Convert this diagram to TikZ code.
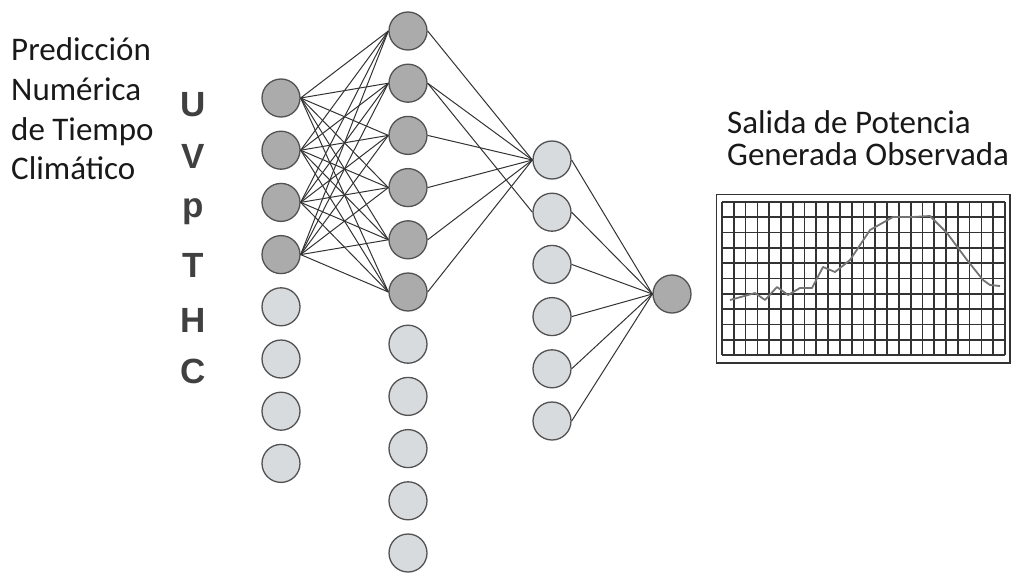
\documentclass[tikz,border=0pt]{standalone}
\usepackage{fontspec}
\setmainfont{Carlito}
\newfontfamily\lettersfont{Liberation Sans}
\begin{document}
\begin{tikzpicture}[x=1pt,y=-1pt,
  neuron/.style={circle,draw=black!68,line width=1.3pt,minimum size=38pt,inner sep=0pt},
  darkn/.style={neuron,fill=black!33},
  lightn/.style={neuron,fill={rgb,255:red,216;green,219;blue,222}},
  link/.style={draw=black!80,line width=1pt},
  label/.style={anchor=base west,inner sep=0pt,font=\fontsize{33}{39}\selectfont,text=black!90},
  letter/.style={anchor=base,inner sep=0pt,font=\lettersfont\bfseries\fontsize{35}{40}\selectfont,text=black!75},
  gridline/.style={draw=black!80,line width=1.7pt},
  curve/.style={draw=black!55,line width=1.8pt,line join=round}]
\useasboundingbox (0,0) rectangle (1016,575);
% input layer
\foreach \i in {1,...,4} \node[darkn] (a\i) at (281,{98+52.2*(\i-1)}) {};
\foreach \i in {5,...,8} \node[lightn] (a\i) at (281,{98+52.2*(\i-1)}) {};
% hidden layer 1
\foreach \i in {1,...,6} \node[darkn] (b\i) at (408,{31+52.2*(\i-1)}) {};
\foreach \i in {7,...,11} \node[lightn] (b\i) at (408,{31+52.2*(\i-1)}) {};
% hidden layer 2
\foreach \i in {1,...,6} \node[lightn] (c\i) at (552,{160+52.2*(\i-1)}) {};
% output
\node[darkn] (o) at (672,294) {};
% connections
\foreach \i in {1,...,4} \foreach \j in {1,...,6} \draw[link] (a\i.east) -- (b\j.west);
\foreach \j in {1,...,6} \draw[link] (b\j.east) -- (c1.west);
\draw[link] (b2.east) -- (c2.west);
\foreach \j in {1,...,6} \draw[link] (c\j.east) -- (o.west);
% texts
\node[label] (t1) at (11,61) {Predicción};
\node[label] (t2) at (11,100) {Numérica};
\node[label] (t3) at (11,140) {de Tiempo};
\node[label] (t4) at (11,179) {Climático};
\node[label] (s1) at (727,133) {Salida de Potencia};
\node[label] (s2) at (727,165) {Generada Observada};
\node[letter] (lU) at (193,117) {U};
\node[letter] (lV) at (193,168) {V};
\node[letter] (lp) at (193,217) {p};
\node[letter] (lT) at (193,277) {T};
\node[letter] (lH) at (193,332) {H};
\node[letter] (lC) at (193,383) {C};
% chart
\draw[draw=black!80,line width=1.4pt] (716.5,194.5) rectangle (1010,363);
\foreach \k in {0,...,24} \draw[gridline] ({722+11.79*\k},202) -- ({722+11.79*\k},355);
\foreach \k in {0,...,10} \draw[gridline] (722,{202+15.3*\k}) -- (1005,{202+15.3*\k});
\draw[curve] (730,300) -- (755,293) -- (765,300) -- (777,287) -- (788,295) -- (800,288) -- (812,288) -- (823,267) -- (835,272) -- (850,260) -- (870,230) -- (893,217) -- (913,217) -- (930,216) -- (947,233) -- (967,260) -- (983,280) -- (990,285) -- (1000,286);
\end{tikzpicture}
\end{document}
